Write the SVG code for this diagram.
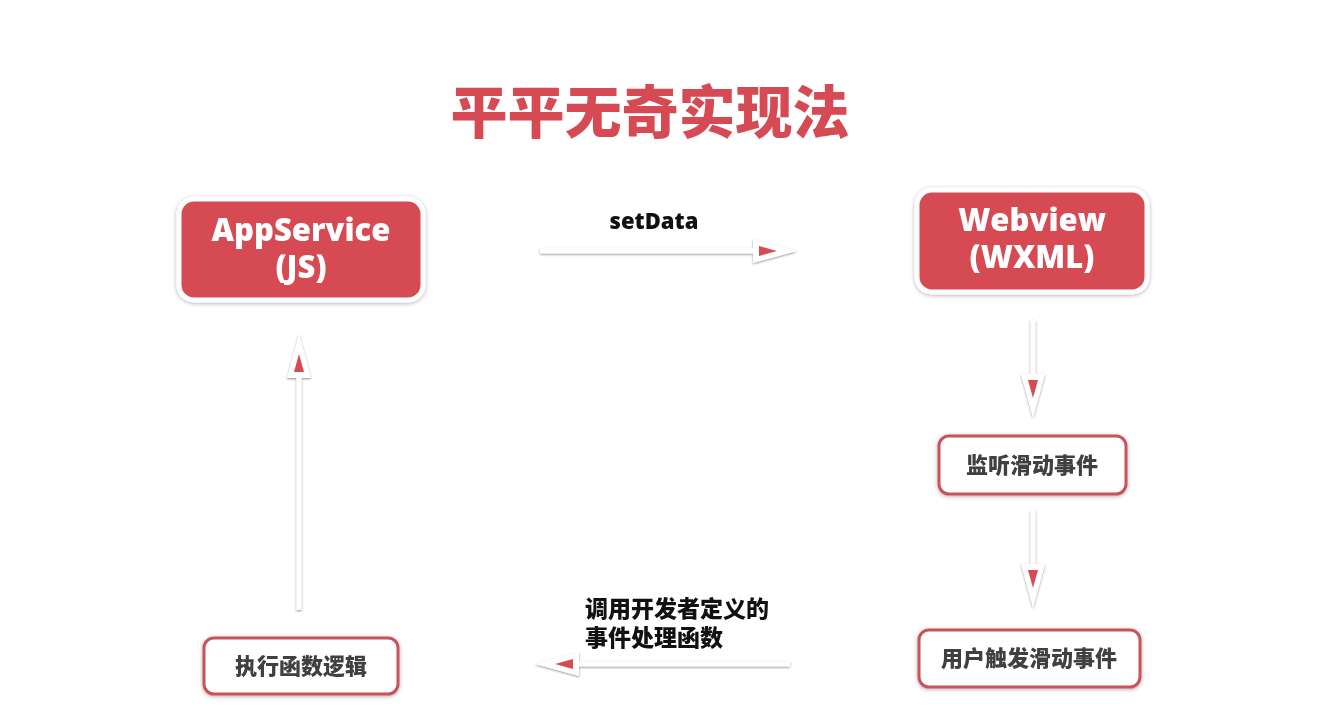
<svg xmlns="http://www.w3.org/2000/svg" xmlns:xlink="http://www.w3.org/1999/xlink" width="1322" height="719" viewBox="0 0 1322 719">
<defs>
<style>
.title{font-family:"Noto Sans CJK SC",sans-serif;font-weight:900;font-size:57px;fill:#D64B53}
.big{font-family:"Open Sans","Noto Sans CJK SC",sans-serif;font-weight:800;font-size:31px;fill:#ffffff}
.lbl{font-family:"Open Sans","Noto Sans CJK SC",sans-serif;font-weight:800;font-size:22px;fill:#111111}
.cjk{font-family:"Noto Sans CJK SC",sans-serif;font-weight:900;font-size:23px;fill:#111111}
.small{font-family:"Noto Sans CJK SC",sans-serif;font-weight:900;font-size:22px;fill:#404040}
.redbox{fill:#D64B53;stroke:#ffffff;stroke-width:5}
.whitebox{fill:#ffffff;stroke:#C9535B;stroke-width:3}
.shaft{stroke:#ffffff;stroke-width:5;fill:none}
</style>
<filter id="sh" x="-20%" y="-20%" width="140%" height="140%">
<feDropShadow dx="0" dy="1" stdDeviation="2" flood-color="#000000" flood-opacity="0.3"/>
</filter>
<filter id="ash" x="-50%" y="-50%" width="200%" height="200%">
<feDropShadow dx="0" dy="1" stdDeviation="1.2" flood-color="#000000" flood-opacity="0.45"/>
</filter>
<g id="head">
<polygon points="-44,-12 0,0 -44,12" fill="#ffffff"/>
<polygon points="-38,-5 -20,0 -38,5" fill="#D64B53"/>
</g>
</defs>
<rect width="1322" height="719" fill="#ffffff"/>
<text class="title" x="650" y="133" text-anchor="middle">平平无奇实现法</text>

<g id="connectors" filter="url(#ash)">
<g id="c-setdata">
<line class="shaft" x1="540" y1="251" x2="760" y2="251"/>
<use xlink:href="#head" transform="translate(797,251)"/>
</g>
<g id="c-web-listen">
<line class="shaft" x1="1033" y1="320" x2="1033" y2="380"/>
<use xlink:href="#head" transform="translate(1033,418) rotate(90)"/>
</g>
<g id="c-listen-user">
<line class="shaft" x1="1033" y1="510" x2="1033" y2="570"/>
<use xlink:href="#head" transform="translate(1033,608) rotate(90)"/>
</g>
<g id="c-user-exec">
<line class="shaft" x1="790" y1="664" x2="570" y2="664"/>
<use xlink:href="#head" transform="translate(535,664) rotate(180)"/>
</g>
<g id="c-exec-app">
<line class="shaft" x1="299" y1="610" x2="299" y2="370"/>
<use xlink:href="#head" transform="translate(299,334) rotate(-90)"/>
</g>
</g>
<text class="lbl" x="654" y="229" text-anchor="middle">setData</text>
<text class="cjk" x="585" y="617">调用开发者定义的</text>
<text class="cjk" x="585" y="646">事件处理函数</text>

<g id="appservice">
<rect class="redbox" x="179" y="199" width="244" height="101" rx="15" filter="url(#sh)"/>
<text class="big" x="301" y="241" text-anchor="middle">AppService</text>
<text class="big" x="301" y="278" text-anchor="middle">(JS)</text>
</g>
<g id="webview">
<rect class="redbox" x="917" y="190" width="230" height="102" rx="15" filter="url(#sh)"/>
<text class="big" x="1032" y="231" text-anchor="middle">Webview</text>
<text class="big" x="1032" y="268" text-anchor="middle">(WXML)</text>
</g>
<g id="listen">
<rect class="whitebox" x="939" y="436" width="187" height="58" rx="10" filter="url(#sh)"/>
<text class="small" x="1032" y="473" text-anchor="middle">监听滑动事件</text>
</g>
<g id="usertrigger">
<rect class="whitebox" x="919" y="630" width="221" height="57" rx="10" filter="url(#sh)"/>
<text class="small" x="1029" y="666" text-anchor="middle">用户触发滑动事件</text>
</g>
<g id="exec">
<rect class="whitebox" x="204" y="638" width="194" height="56" rx="10" filter="url(#sh)"/>
<text class="small" x="301" y="674" text-anchor="middle">执行函数逻辑</text>
</g>
</svg>
